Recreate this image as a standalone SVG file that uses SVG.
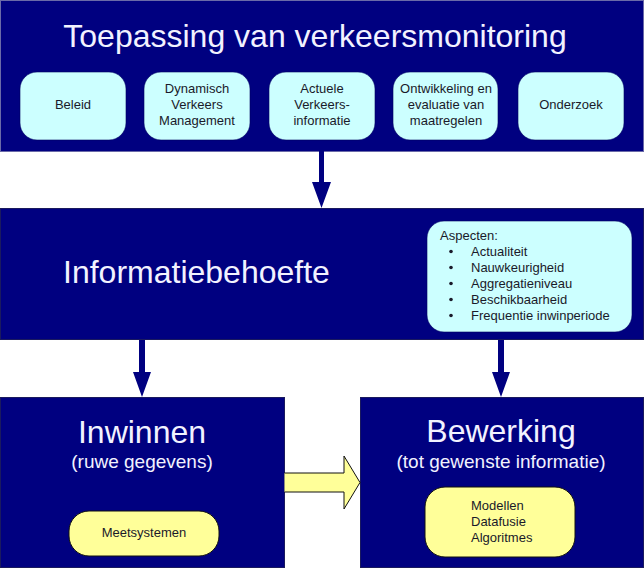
<svg xmlns="http://www.w3.org/2000/svg" width="644" height="568" viewBox="0 0 644 568">
<style>
.panel{fill:#000080;stroke:#1a1a5e;stroke-width:1}
.top{fill:#000080;stroke:#6a6aa8;stroke-width:1}
.cyan{fill:#CCFFFF;stroke:#000060;stroke-width:0.6}
.yel{fill:#FFFF99;stroke:#111;stroke-width:1}
.big{font-family:"Liberation Sans",Arial,sans-serif;font-size:32px;fill:#F2F2FF}
.mid{font-family:"Liberation Sans",Arial,sans-serif;font-size:19px;fill:#F2F2FF}
.sm{font-family:"Liberation Sans",Arial,sans-serif;font-size:13px;fill:#1a1a2a}
.arr{fill:#000080;stroke:none}
.yarr{fill:#FFFF99;stroke:#111;stroke-width:1}
</style>
<rect x="0" y="0" width="644" height="568" fill="#ffffff"/>
<g id="toepassing">
<rect class="top" x="0.5" y="0.5" width="643" height="151"/>
<text class="big" x="315" y="47" text-anchor="middle">Toepassing van verkeersmonitoring</text>
</g>
<g id="beleid">
<rect class="cyan" x="20" y="72" width="106" height="68" rx="17"/>
<text class="sm" x="73" y="109" text-anchor="middle">Beleid</text>
</g>
<g id="dvm">
<rect class="cyan" x="144" y="72" width="106" height="68" rx="17"/>
<text class="sm" x="197" y="93" text-anchor="middle">Dynamisch</text>
<text class="sm" x="197" y="109" text-anchor="middle">Verkeers</text>
<text class="sm" x="197" y="125" text-anchor="middle">Management</text>
</g>
<g id="actuele">
<rect class="cyan" x="269" y="72" width="106" height="68" rx="17"/>
<text class="sm" x="322" y="93" text-anchor="middle">Actuele</text>
<text class="sm" x="322" y="109" text-anchor="middle">Verkeers-</text>
<text class="sm" x="322" y="125" text-anchor="middle">informatie</text>
</g>
<g id="ontwikkeling">
<rect class="cyan" x="393" y="72" width="105" height="68" rx="17"/>
<text class="sm" x="446" y="93" text-anchor="middle">Ontwikkeling en</text>
<text class="sm" x="446" y="109" text-anchor="middle">evaluatie van</text>
<text class="sm" x="446" y="125" text-anchor="middle">maatregelen</text>
</g>
<g id="onderzoek">
<rect class="cyan" x="518" y="72" width="106" height="68" rx="17"/>
<text class="sm" x="571" y="109" text-anchor="middle">Onderzoek</text>
</g>
<g id="informatiebehoefte">
<rect class="panel" x="0.5" y="208.5" width="643" height="131"/>
<text class="big" x="63" y="283">Informatiebehoefte</text>
</g>
<g id="aspecten">
<rect class="cyan" x="427" y="221" width="205" height="111" rx="17"/>
<text class="sm" x="440" y="240">Aspecten:</text>
<g class="sm">
<circle cx="451" cy="251.5" r="1.8" fill="#1a1a2a"/>
<circle cx="451" cy="267.5" r="1.8" fill="#1a1a2a"/>
<circle cx="451" cy="283.5" r="1.8" fill="#1a1a2a"/>
<circle cx="451" cy="299.5" r="1.8" fill="#1a1a2a"/>
<circle cx="451" cy="315.5" r="1.8" fill="#1a1a2a"/>
</g>
<text class="sm" x="471" y="256">Actualiteit</text>
<text class="sm" x="471" y="272">Nauwkeurigheid</text>
<text class="sm" x="471" y="288">Aggregatieniveau</text>
<text class="sm" x="471" y="304">Beschikbaarheid</text>
<text class="sm" x="471" y="320">Frequentie inwinperiode</text>
</g>
<g id="inwinnen">
<rect class="panel" x="0.5" y="397.5" width="284" height="170"/>
<text class="big" x="142" y="443" text-anchor="middle">Inwinnen</text>
<text class="mid" x="142" y="468" text-anchor="middle">(ruwe gegevens)</text>
</g>
<g id="meetsystemen">
<rect class="yel" x="69" y="511" width="150" height="45" rx="20"/>
<text class="sm" x="144" y="537" text-anchor="middle">Meetsystemen</text>
</g>
<g id="bewerking">
<rect class="panel" x="360.5" y="397.5" width="283" height="170"/>
<text class="big" x="501" y="442" text-anchor="middle">Bewerking</text>
<text class="mid" x="501" y="468" text-anchor="middle">(tot gewenste informatie)</text>
</g>
<g id="modellen">
<rect class="yel" x="425" y="487" width="150" height="70" rx="20"/>
<text class="sm" x="471" y="510">Modellen</text>
<text class="sm" x="471" y="526">Datafusie</text>
<text class="sm" x="471" y="542">Algoritmes</text>
</g>
<g id="connectors">
<path class="arr" d="M319,151 H324 V182 H331 L321.5,208 L312,182 H319 Z"/>
<path class="arr" d="M139,340 H145 V372 H151 L142,397 L133,372 H139 Z"/>
<path class="arr" d="M498,340 H504 V372 H510 L501,397 L492,372 H498 Z"/>
<path class="yarr" d="M284.5,473 H344 V456 L360,482.5 L344,509 V492 H284.5"/>
</g>
</svg>
